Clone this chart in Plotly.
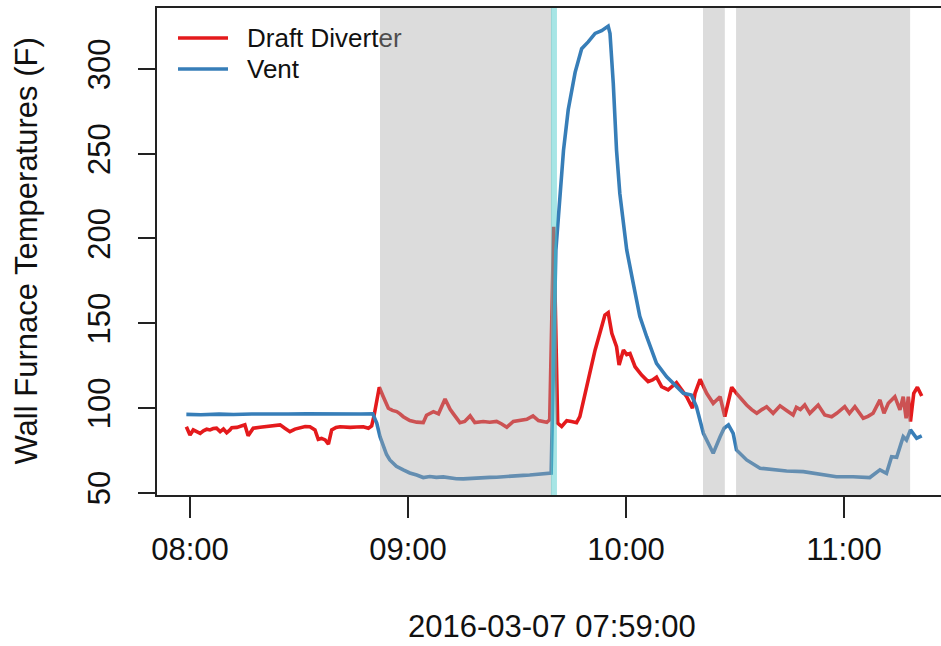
import pandas as pd
import plotly.graph_objects as go

# Minutes after 08:00 on 2016-03-07 and wall temperatures (F)
vent_minutes = [-1, 3, 8, 12, 17, 22, 27, 32, 37, 42, 47, 50.3, 51.4, 52.3, 53.2, 54.1, 55.0,
                56.8, 58.7, 60.5, 62.4, 64.2, 66.0, 67.8, 69.7, 71.5, 73.3, 75.2, 77.0, 78.9,
                80.7, 82.5, 84.4, 86.2, 88.0, 89.9, 91.7, 93.5, 95.4, 97.2, 99.1, 99.4, 100.7,
                101.4, 102.8, 104.1, 106.0, 107.8, 109.6, 111.5, 113.3, 115.1, 115.6, 116.5,
                117.4, 118.3, 119.3, 120.2, 122.0, 123.8, 125.7, 128.4, 131.2, 133.9, 135.8,
                138.0, 139.4, 141.3, 144.0, 145.9, 147.0, 148.2, 149.5, 150.4, 153.2, 156.9,
                160.5, 164.2, 168.8, 173.4, 177.9, 182.5, 187.1, 189.9, 191.7, 193.1, 194.5,
                196.3, 197.2, 198.3, 200.0, 201.4]
vent_temps = [96.2, 96.0, 96.3, 96.1, 96.4, 96.2, 96.4, 96.5, 96.3, 96.5, 96.4, 96.5, 91.0,
              83.0, 77.1, 72.5, 69.3, 65.5, 63.4, 61.6, 60.4, 58.9, 59.5, 59.0, 59.3, 58.6,
              58.2, 58.1, 58.4, 58.3, 58.7, 59.0, 59.1, 59.5, 59.7, 60.0, 60.2, 60.4, 60.6,
              60.8, 61.0, 61.5, 193.0, 215.0, 252.0, 276.0, 298.0, 312.0, 316.0, 321.0,
              322.6, 325.3, 321.0, 291.5, 252.0, 226.6, 207.0, 193.2, 173.5, 154.0, 142.0,
              126.3, 118.4, 112.5, 108.6, 107.6, 100.7, 85.0, 73.2, 83.0, 88.0, 90.0, 85.0,
              75.2, 69.3, 64.4, 63.4, 62.8, 62.4, 61.0, 59.4, 59.4, 58.9, 63.4, 61.4, 71.2,
              70.9, 83.0, 81.0, 87.0, 82.1, 83.5]

diverter_minutes = [-1, 0, 0.9, 1.8, 2.8, 3.7, 4.6, 5.5, 6.4, 7.3, 8.3, 9.2, 10.1, 11.0, 11.5,
                    12.9, 13.8, 15.1, 16.0, 17.4, 19.3, 21.1, 23.0, 24.8, 26.1, 27.5, 28.9,
                    30.3, 31.7, 33.0, 34.4, 35.3, 36.2, 37.2, 38.1, 39.0, 40.2, 41.3, 42.7,
                    44.1, 45.9, 47.7, 49.1, 50.0, 50.6, 51.4, 52.1, 53.2, 54.6, 55.7, 56.9,
                    57.8, 58.7, 60.5, 62.4, 64.2, 65.1, 67.0, 68.4, 70.2, 71.6, 72.5, 74.3,
                    75.6, 77.1, 78.4, 80.7, 82.5, 84.4, 85.8, 87.2, 89.0, 90.8, 92.7, 94.4,
                    95.9, 98.2, 99.0, 100.1, 101.2, 102.3, 103.7, 105.0, 106.4, 107.3, 108.7,
                    110.1, 111.5, 112.8, 114.2, 115.1, 116.1, 117.4, 118.1, 119.3, 120.2,
                    121.1, 122.5, 124.3, 126.1, 127.3, 128.4, 129.8, 131.6, 133.9, 134.8,
                    136.7, 138.3, 139.0, 140.4, 142.2, 144.0, 145.9, 147.2, 149.1, 150.4,
                    151.8, 153.2, 154.6, 156.0, 157.4, 158.7, 160.5, 162.4, 164.2, 166.0,
                    166.9, 168.0, 169.2, 170.6, 172.9, 174.7, 176.6, 178.0, 180.2, 181.5,
                    183.0, 184.2, 185.3, 186.6, 188.0, 189.9, 191.0, 192.2, 194.0, 195.4,
                    196.3, 197.1, 197.7, 198.3, 199.2, 200.2, 201.4]
diverter_temps = [88.9, 84.0, 87.0, 86.0, 85.0, 86.5, 87.4, 87.0, 87.8, 88.0, 86.0, 87.5, 85.3,
                  87.0, 88.3, 88.5, 88.9, 90.0, 83.5, 88.0, 88.6, 88.9, 89.3, 90.0, 88.0, 86.0,
                  87.5, 88.0, 89.0, 88.9, 87.0, 81.5, 82.0, 81.1, 78.7, 87.0, 88.5, 88.9, 88.5,
                  88.5, 88.7, 88.9, 88.0, 89.4, 94.8, 105.0, 112.2, 106.6, 99.8, 98.5, 97.8,
                  96.5, 94.8, 92.5, 91.6, 91.3, 95.7, 97.8, 96.5, 105.3, 99.2, 96.5, 91.3, 92.0,
                  95.3, 91.3, 92.0, 91.5, 92.0, 90.5, 88.6, 92.0, 92.5, 93.3, 95.3, 92.5, 91.5,
                  93.0, 206.9, 91.0, 89.0, 92.5, 92.0, 91.3, 94.8, 108.6, 120.4, 134.2, 144.0,
                  154.8, 156.2, 144.0, 136.1, 125.3, 134.2, 131.5, 132.1, 124.3, 119.4, 115.5,
                  116.5, 118.1, 112.5, 110.6, 114.9, 112.5, 106.6, 99.8, 108.6, 116.9, 108.6,
                  102.7, 106.6, 94.8, 112.2, 108.6, 105.0, 101.7, 99.0, 96.8, 99.0, 100.7, 96.8,
                  101.2, 98.5, 95.8, 100.3, 99.0, 101.7, 96.8, 101.7, 95.8, 94.8, 96.8, 100.7,
                  96.8, 100.7, 97.0, 93.9, 95.0, 96.8, 104.7, 96.8, 102.7, 106.6, 98.8, 106.6,
                  93.9, 106.6, 91.9, 108.6, 112.2, 107.0]

# Shaded periods (start, end) in minutes after 08:00
off_periods = [(52.3, 99.6), (141.2, 147.2), (150.3, 198.2)]
ignition_period = (99.35, 101.0)

y_ticks = [50, 100, 150, 200, 250, 300]
x_tick_minutes = [0, 60, 120, 180]
x_tick_labels = ["08:00", "09:00", "10:00", "11:00"]

series_names = ["Draft Diverter", "Vent"]

base = pd.Timestamp("2016-03-07 08:00:00")


def to_time(mins):
    return base + pd.to_timedelta(pd.Series(mins, dtype=float), unit="min")


def ts(m):
    return (base + pd.Timedelta(minutes=m)).strftime("%Y-%m-%d %H:%M:%S.%f")


RED = "#E41A1C"
BLUE = "#377EB8"
FONT = "Liberation Sans, Arial, Helvetica, sans-serif"

# Plot geometry in pixels
L, T, W, H = 157, 8, 784, 487


def px(xp):
    return (xp - L) / W


def py(yp):
    return (T + H - yp) / H


fig = go.Figure()
fig.add_trace(go.Scatter(x=to_time(diverter_minutes), y=diverter_temps, mode="lines",
                         name=series_names[0], line=dict(color=RED, width=3.6),
                         showlegend=False))
fig.add_trace(go.Scatter(x=to_time(vent_minutes), y=vent_temps, mode="lines",
                         name=series_names[1], line=dict(color=BLUE, width=3.6),
                         showlegend=False))

# Legend labels live on an invisible 0-1 overlay so the shaded periods can cover them
fig.add_trace(go.Scatter(x=[px(247), px(247)], y=[py(40), py(71)], mode="text",
                         text=series_names, textposition="middle right",
                         textfont=dict(family=FONT, size=26, color="#111"),
                         xaxis="x2", yaxis="y2", showlegend=False, hoverinfo="skip",
                         cliponaxis=False))

shapes = []
# Legend keys
for yk, col in [(38, RED), (69, BLUE)]:
    shapes.append(dict(type="line", xref="paper", yref="paper", x0=px(178), x1=px(228),
                       y0=py(yk), y1=py(yk), line=dict(color=col, width=3.6), layer="above"))
# Shaded periods drawn over the lines
for a, b in off_periods:
    shapes.append(dict(type="rect", xref="x", yref="paper", x0=ts(a), x1=ts(b), y0=0, y1=1,
                       fillcolor="rgba(168,168,168,0.4)", line=dict(width=0), layer="above"))
shapes.append(dict(type="rect", xref="x", yref="paper", x0=ts(ignition_period[0]),
                   x1=ts(ignition_period[1]), y0=0, y1=1,
                   fillcolor="rgba(80,204,204,0.5)", line=dict(width=0), layer="above"))

annotations = [
    dict(text="Wall Furnace Temperatures (F)", x=px(26), y=py(251.5), xref="paper",
         yref="paper", xanchor="center", yanchor="middle", textangle=-90, showarrow=False,
         font=dict(family=FONT, size=31, color="#111")),
    dict(text="2016-03-07 07:59:00", x=px(551.5), y=py(626), xref="paper", yref="paper",
         xanchor="center", yanchor="middle", showarrow=False,
         font=dict(family=FONT, size=31, color="#111")),
]

x_left = -9.08
x_right = x_left + W / 218 * 60

fig.update_layout(
    width=941, height=646,
    margin=dict(l=L, r=0, t=T, b=646 - T - H, pad=0),
    paper_bgcolor="white", plot_bgcolor="white",
    shapes=shapes, annotations=annotations,
    font=dict(family=FONT, color="#111"),
    xaxis=dict(range=[ts(x_left), ts(x_right)], type="date",
               tickvals=[ts(m) for m in x_tick_minutes], ticktext=x_tick_labels,
               ticks="outside", ticklen=21, tickwidth=2, tickcolor="#222",
               ticklabelstandoff=5,
               showline=True, linewidth=2, linecolor="#222", mirror=True,
               showgrid=False, zeroline=False,
               tickfont=dict(family=FONT, size=31, color="#111")),
    yaxis=dict(range=[48.6, 336.0], tickvals=y_ticks,
               ticks="outside", ticklen=17, tickwidth=2, tickcolor="#222",
               ticklabelstandoff=16,
               showline=True, linewidth=2, linecolor="#222", mirror=False,
               showgrid=False, zeroline=False, tickangle=-90,
               tickfont=dict(family=FONT, size=31, color="#111")),
    xaxis2=dict(overlaying="x", range=[0, 1], visible=False),
    yaxis2=dict(overlaying="y", range=[0, 1], visible=False),
)

fig.write_html("out.html")
